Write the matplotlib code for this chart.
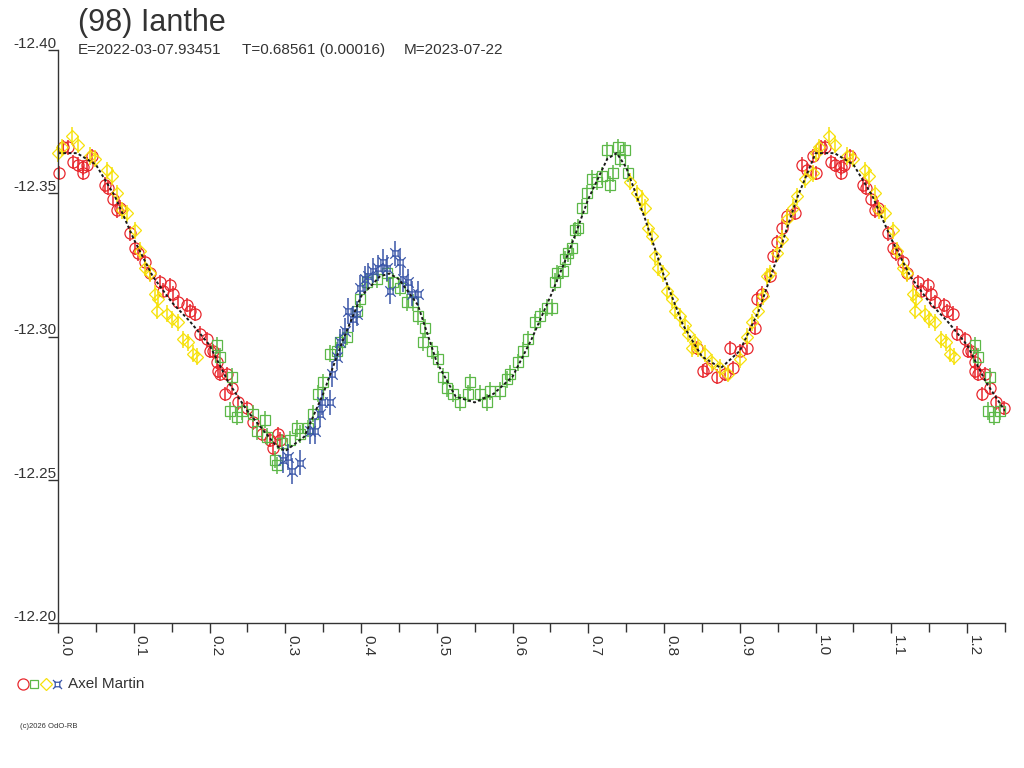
import matplotlib
matplotlib.use("Agg")
import matplotlib.pyplot as plt
from matplotlib.path import Path
from matplotlib.lines import Line2D
import numpy as np

plt.rcParams['font.family'] = ['Liberation Sans', 'DejaVu Sans']

title = "(98) Ianthe"
subtitle_parts = ["E=2022-03-07.93451", "T=0.68561 (0.00016)", "M=2023-07-22"]
observer = "Axel Martin"
credit = "(c)2026 OdO-RB"

xtick_vals = [0.0, 0.1, 0.2, 0.3, 0.4, 0.5, 0.6, 0.7, 0.8, 0.9, 1.0, 1.1, 1.2]
xminor_vals = [0.05, 0.15, 0.25, 0.35, 0.45, 0.55, 0.65, 0.75, 0.85, 0.95, 1.05, 1.15, 1.25]
ytick_vals = [-12.40, -12.35, -12.30, -12.25, -12.20]

# fitted curve (phase 0..1, repeated up to 1.25)
model_phase = [0.0, 0.025, 0.05, 0.075, 0.1, 0.125, 0.15, 0.175, 0.2, 0.225,
               0.25, 0.275, 0.2875, 0.3, 0.325, 0.35, 0.375, 0.4, 0.425, 0.4375,
               0.45, 0.475, 0.5, 0.525, 0.55, 0.575, 0.6, 0.625, 0.65, 0.675,
               0.7, 0.725, 0.7375, 0.75, 0.775, 0.8, 0.825, 0.85, 0.875, 0.9,
               0.925, 0.95, 0.975]
model_mag = [-12.364, -12.364, -12.360, -12.349, -12.334, -12.321, -12.312, -12.305, -12.297, -12.284,
             -12.274, -12.266, -12.262, -12.260, -12.265, -12.280, -12.298, -12.314, -12.321, -12.322,
             -12.320, -12.311, -12.291, -12.279, -12.277, -12.280, -12.286, -12.299, -12.314, -12.330,
             -12.348, -12.362, -12.364, -12.359, -12.341, -12.321, -12.304, -12.293, -12.289, -12.295,
             -12.309, -12.328, -12.348]

red_phase = [0.001, 0.007, 0.013, 0.020, 0.026, 0.033, 0.038, 0.045, 0.033, 0.062,
             0.066, 0.073, 0.078, 0.082, 0.095, 0.102, 0.106, 0.115, 0.121, 0.135,
             0.139, 0.148, 0.152, 0.158, 0.170, 0.174, 0.181, 0.187, 0.197, 0.201,
             0.210, 0.214, 0.205, 0.211, 0.223, 0.220, 0.230, 0.238, 0.249, 0.257,
             0.269, 0.280, 0.284, 0.290, 0.293,
             0.843, 0.851, 0.857, 0.870, 0.880, 0.887, 0.891, 0.900, 0.909, 0.920,
             0.923, 0.929, 0.940, 0.944, 0.949, 0.956, 0.962, 0.973, 0.982, 0.989,
             0.996]
red_mag = [-12.357, -12.366, -12.366, -12.361, -12.360, -12.359, -12.360, -12.363, -12.357, -12.353,
           -12.352, -12.348, -12.344, -12.345, -12.336, -12.331, -12.329, -12.326, -12.322, -12.319,
           -12.316, -12.318, -12.315, -12.312, -12.311, -12.309, -12.308, -12.301, -12.299, -12.295,
           -12.291, -12.287, -12.295, -12.288, -12.287, -12.280, -12.282, -12.277, -12.275, -12.270,
           -12.266, -12.264, -12.261, -12.266, -12.264,
           -12.296, -12.288, -12.289, -12.286, -12.287, -12.296, -12.289, -12.295, -12.296, -12.303,
           -12.313, -12.315, -12.321, -12.328, -12.333, -12.338, -12.342, -12.343, -12.360, -12.358,
           -12.363]
red_err = 0.0025

green_phase = [0.210, 0.214, 0.230, 0.227, 0.236, 0.243, 0.257, 0.263, 0.273, 0.276,
               0.286, 0.289, 0.296, 0.306, 0.315, 0.319, 0.330, 0.337, 0.343, 0.350,
               0.359, 0.368, 0.372, 0.381, 0.395, 0.399, 0.408, 0.421, 0.434, 0.442,
               0.451, 0.461, 0.469, 0.475, 0.484, 0.482, 0.494, 0.502, 0.508, 0.513,
               0.521, 0.531, 0.541, 0.544, 0.557, 0.566, 0.570, 0.583, 0.593, 0.597,
               0.607, 0.614, 0.620, 0.630, 0.636, 0.645, 0.652, 0.656, 0.659, 0.666,
               0.669, 0.673, 0.678, 0.682, 0.686, 0.692, 0.698, 0.705, 0.711, 0.718,
               0.725, 0.729, 0.732, 0.739, 0.742, 0.748, 0.752]
green_mag = [-12.297, -12.293, -12.286, -12.274, -12.272, -12.274, -12.273, -12.267, -12.271, -12.265,
             -12.257, -12.255, -12.263, -12.264, -12.268, -12.266, -12.268, -12.273, -12.280, -12.284,
             -12.294, -12.295, -12.298, -12.300, -12.309, -12.313, -12.319, -12.320, -12.322, -12.319,
             -12.317, -12.312, -12.312, -12.307, -12.303, -12.298, -12.295, -12.292, -12.286, -12.282,
             -12.280, -12.277, -12.280, -12.284, -12.280, -12.277, -12.281, -12.281, -12.285, -12.287,
             -12.291, -12.295, -12.299, -12.305, -12.307, -12.310, -12.310, -12.319, -12.322, -12.323,
             -12.327, -12.329, -12.331, -12.337, -12.338, -12.345, -12.350, -12.355, -12.354, -12.356,
             -12.365, -12.353, -12.357, -12.366, -12.362, -12.365, -12.357]
green_err = 0.003

yellow_phase = [0.000, 0.005, 0.018, 0.026, 0.042, 0.049, 0.065, 0.071, 0.078, 0.084,
                0.091, 0.102, 0.108, 0.115, 0.121, 0.128, 0.132, 0.131, 0.144, 0.150,
                0.158, 0.165, 0.172, 0.178, 0.183,
                0.755, 0.764, 0.771, 0.775, 0.779, 0.784, 0.788, 0.792, 0.798, 0.804,
                0.810, 0.814, 0.821, 0.828, 0.831, 0.837, 0.841,
                0.845, 0.854, 0.863, 0.874, 0.884, 0.900, 0.909, 0.916, 0.924, 0.930,
                0.936, 0.940, 0.949, 0.956, 0.962, 0.970, 0.975, 0.986, 0.996]
yellow_mag = [-12.364, -12.366, -12.370, -12.367, -12.363, -12.362, -12.358, -12.356, -12.350, -12.344,
              -12.343, -12.337, -12.330, -12.324, -12.322, -12.315, -12.313, -12.309, -12.308, -12.306,
              -12.305, -12.299, -12.298, -12.294, -12.293,
              -12.354, -12.350, -12.348, -12.345, -12.338, -12.335, -12.328, -12.324, -12.322, -12.316,
              -12.313, -12.309, -12.307, -12.304, -12.301, -12.296, -12.298,
              -12.296, -12.294, -12.291, -12.289, -12.287, -12.292, -12.300, -12.305, -12.309, -12.314,
              -12.321, -12.322, -12.329, -12.334, -12.341, -12.345, -12.349, -12.355, -12.357]
yellow_err = 0.003

blue_phase = [0.297, 0.304, 0.309, 0.319, 0.333, 0.339, 0.346, 0.348, 0.359, 0.362,
              0.368, 0.372, 0.379, 0.383, 0.389, 0.395, 0.399, 0.405, 0.409, 0.416,
              0.422, 0.429, 0.434, 0.445, 0.451, 0.438, 0.455, 0.462, 0.467, 0.475]
blue_mag = [-12.257, -12.258, -12.253, -12.256, -12.267, -12.267, -12.273, -12.277, -12.277, -12.287,
            -12.293, -12.298, -12.302, -12.309, -12.306, -12.308, -12.317, -12.320, -12.321, -12.323,
            -12.324, -12.326, -12.324, -12.329, -12.326, -12.316, -12.320, -12.319, -12.315, -12.315]
blue_err = 0.0045

RED = "#e8272d"
GREEN = "#5cb848"
YELLOW = "#f7e10a"
BLUE = "#3a56a8"
TXT = "#333333"

# square with corner spikes for the blue series
star_path = Path(
    [(-0.4, -0.4), (0.4, -0.4), (0.4, 0.4), (-0.4, 0.4), (-0.4, -0.4),
     (-0.4, -0.4), (-0.8, -0.8), (0.4, -0.4), (0.8, -0.8),
     (0.4, 0.4), (0.8, 0.8), (-0.4, 0.4), (-0.8, 0.8)],
    [Path.MOVETO, Path.LINETO, Path.LINETO, Path.LINETO, Path.LINETO,
     Path.MOVETO, Path.LINETO, Path.MOVETO, Path.LINETO,
     Path.MOVETO, Path.LINETO, Path.MOVETO, Path.LINETO])


def wrap(phase, mag, limit=0.25):
    phase = np.asarray(phase)
    mag = np.asarray(mag)
    extra = phase <= limit
    return np.concatenate([phase, phase[extra] + 1]), np.concatenate([mag, mag[extra]])


W, H = 1024, 768
fig = plt.figure(figsize=(W / 100, H / 100), dpi=100)
ax = fig.add_axes([58 / W, 1 - 623 / H, 947 / W, 573 / H])

series = [
    (red_phase, red_mag, red_err, RED, "o", 8.0),
    (green_phase, green_mag, green_err, GREEN, "s", 6.5),
    (yellow_phase, yellow_mag, yellow_err, YELLOW, "D", 6.5),
    (blue_phase, blue_mag, blue_err, BLUE, star_path, 7.5),
]

for ph, mg, err, col, mk, ms in series:
    x, y = wrap(ph, mg)
    ax.vlines(x, y - err, y + err, colors=col, linewidth=1.1, clip_on=False)
    ax.plot(x, y, linestyle="none", marker=mk, ms=ms, mfc="none", mec=col,
            mew=0.9, clip_on=False)

mx, my = wrap(model_phase, model_mag)
ax.plot(mx, my, color="#1a1a1a", lw=1.4, linestyle=(0, (1.5, 1.2)))

ax.set_xlim(0, 1.25)
ax.set_ylim(-12.20, -12.40)

for s in ["top", "right"]:
    ax.spines[s].set_visible(False)
for s in ["left", "bottom"]:
    ax.spines[s].set_color(TXT)
    ax.spines[s].set_linewidth(1.0)

ax.set_xticks(xtick_vals)
ax.set_xticks(xminor_vals, minor=True)
ax.set_xticklabels([f"{v:.1f}" for v in xtick_vals], rotation=270, ha="left",
                   va="top", fontsize=11, color=TXT)
ax.tick_params(axis="x", which="major", direction="out", length=7.5, width=1,
               color=TXT, pad=1)
ax.tick_params(axis="x", which="minor", direction="out", length=6.5, width=1,
               color=TXT)

ax.set_yticks(ytick_vals)
ax.set_yticklabels([])
ax.tick_params(axis="y", direction="out", length=7.5, width=1, color=TXT)
for v in ytick_vals:
    ax.annotate(f"{v:.2f}", xy=(0, v), xycoords=("axes fraction", "data"),
                xytext=(-1, 2), textcoords="offset pixels", ha="right",
                va="baseline", fontsize=11, color=TXT)

# header
fig.text(78 / W, 1 - 31 / H, title, fontsize=22, color=TXT, va="baseline")
for xp, part in zip([78, 242, 404], subtitle_parts):
    fig.text(xp / W, 1 - 54 / H, part, fontsize=11, color=TXT, va="baseline")

# legend
legend_marks = [(23, RED, "o", 8.0), (34, GREEN, "s", 6.0),
                (46, YELLOW, "D", 6.5), (57, BLUE, star_path, 6.5)]
for xp, col, mk, ms in legend_marks:
    fig.add_artist(Line2D([xp / W], [1 - 684 / H], transform=fig.transFigure,
                          marker=mk, ms=ms, mfc="none", mec=col, mew=0.9,
                          linestyle="none"))
fig.text(68 / W, 1 - 684 / H, observer, fontsize=11, color=TXT, va="center")

fig.text(20 / W, 1 - 726 / H, credit, fontsize=5.5, color=TXT, va="center")

fig.savefig("out.png", dpi=100)
